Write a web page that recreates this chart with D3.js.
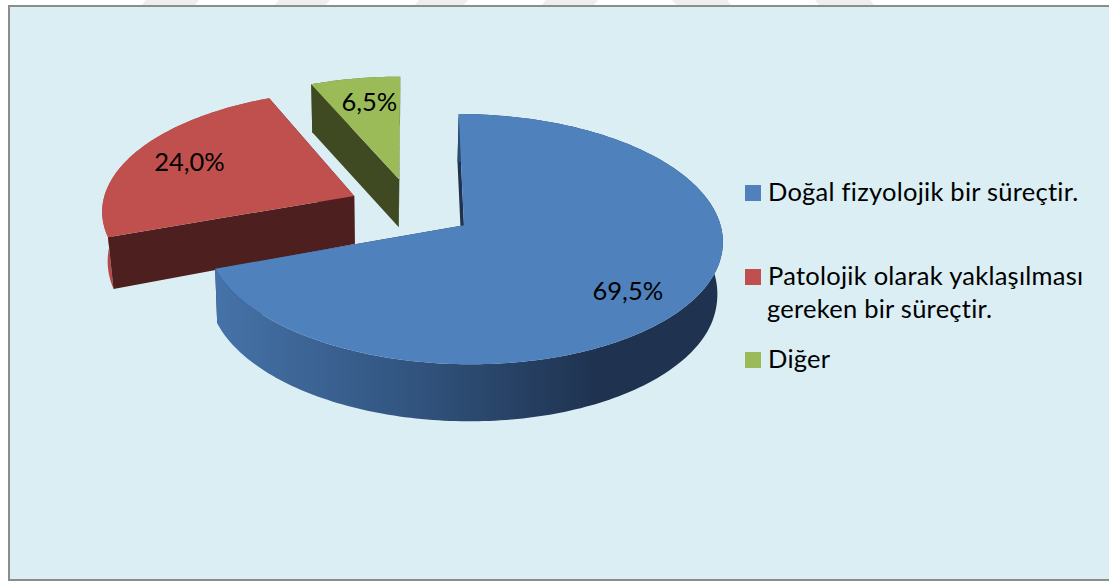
<!DOCTYPE html>
<html><head><meta charset="utf-8">
<script src="https://cdn.jsdelivr.net/npm/d3@7"></script>
<style>html,body{margin:0;padding:0;background:#fff}svg{display:block}
text{font-family:Lato,"Open Sans",sans-serif;fill:#000}</style></head>
<body><svg id="c" width="1109" height="581"></svg>
<script>
const categories = ["Doğal fizyolojik bir süreçtir.", "Patolojik olarak yaklaşılması|gereken bir süreçtir.", "Diğer"];
const seriesValues = [69.5, 24.0, 6.5];
const valueLabels = ["69,5%", "24,0%", "6,5%"];
const topColors = ["#4f81bd", "#c0504d", "#9bbb59"];
const wallColors = ["#1f3350", "#4d1f1e", "#3f4a22"];
const rimColors = ["url(#rimBlue)", "#b5494a", "#5e7036"];
const watermarkStripes = [[141,194,1],[274,325,1],[414,463,1],[541,593,1],[677,732,-1],[820,875,-1]];

const W = 1109, H = 581;
const svg = d3.select("#c");
const defs = svg.append("defs");
const g = defs.append("linearGradient").attr("id","rimBlue").attr("gradientUnits","userSpaceOnUse")
  .attr("x1",218).attr("x2",595).attr("y1",0).attr("y2",0);
g.append("stop").attr("offset",0).attr("stop-color","#4572a8");
g.append("stop").attr("offset",0.5).attr("stop-color","#325580");
g.append("stop").attr("offset",1).attr("stop-color","#1f3350");

// page background and frame
svg.append("rect").attr("width",W).attr("height",H).attr("fill","#fff");
svg.selectAll("path.wm").data(watermarkStripes).join("path").attr("class","wm")
  .attr("fill","#eeeeee")
  .attr("d", d => d3.line()([[d[0],6],[d[0]+d[2]*5,0],[d[1]+d[2]*5,0],[d[1],6]]));
svg.append("rect").attr("x",9).attr("y",6).attr("width",W+10).attr("height",574)
  .attr("fill","#daeef3").attr("stroke","#8c8c8c").attr("stroke-width",2);

// perspective projection of the exploded pie
const P = {cx:411.5, cy:207.7, rx:252.5, ry:119.7, k:0.11, explode:0.25};
const project = (U,V) => { const w = 1 + P.k*V; return [P.cx + P.rx*U/w, P.cy - P.ry*V/w]; };
const depthAt = d3.scaleLinear().domain([195,267,364]).range([48,54.5,57]).clamp(true);
const shiftAt = d3.scaleLinear().domain([108,216,355,722]).range([5.5,2,0.5,-5.5]).clamp(true);
const lower = ([x,y]) => [x + shiftAt(x), y + depthAt(y)];

const arcs = d3.pie().sort(null).value(d => d)(seriesValues);
const line = d3.line();
const labelPlacement = [{r:0.775, turn:0.09}, {r:0.75, turn:0}, {r:0.75, turn:0.024}];

const slices = arcs.map((a,i) => {
  const mid = (a.startAngle + a.endAngle)/2;
  const ox = P.explode*Math.sin(mid), oy = P.explode*Math.cos(mid);
  const pt = (ang,r) => project(ox + r*Math.sin(ang), oy + r*Math.cos(ang));
  const n = Math.ceil((a.endAngle-a.startAngle)/0.02);
  const angs = d3.range(n+1).map(j => a.startAngle + (a.endAngle-a.startAngle)*j/n);
  const outer = angs.map(t => pt(t,1));
  return {i, a, mid, pt, outer, apex: pt(0,0)};
});

// painter's order: back slices first, front slice last; back-facing walls go behind the rim
[2,1,0].forEach(i => {
  const s = slices[i];
  const G = svg.append("g");
  const wall = (p) => G.append("path")
    .attr("d", line([s.apex,p,lower(p),lower(s.apex)])+"Z").attr("fill",wallColors[i]);
  const startFront = Math.sin(s.a.startAngle) < -1e-6;
  const endFront = Math.sin(s.a.endAngle) > 1e-6;
  if (!startFront) wall(s.outer[0]);
  if (!endFront) wall(s.outer[s.outer.length-1]);
  G.append("path").attr("d", line(s.outer.concat(s.outer.map(lower).reverse()))+"Z")
    .attr("fill",rimColors[i]);
  if (startFront) wall(s.outer[0]);
  if (endFront) wall(s.outer[s.outer.length-1]);
  G.append("path").attr("d", line([s.apex].concat(s.outer))+"Z").attr("fill",topColors[i]);
});

// value labels
slices.forEach(s => {
  const lp = labelPlacement[s.i];
  const [x,y] = s.pt(s.mid + lp.turn, lp.r);
  svg.append("text").attr("x",x).attr("y",y+9).attr("text-anchor","middle")
    .attr("font-size",25.5).text(valueLabels[s.i]);
});

// legend
const legendRows = [201,285,368];
categories.forEach((c,i) => {
  const base = legendRows[i];
  svg.append("rect").attr("x",745).attr("y",base-16).attr("width",16).attr("height",16).attr("fill",topColors[i]);
  c.split("|").forEach((ln,j) => {
    svg.append("text").attr("x",j?767:768).attr("y",base+j*33).attr("font-size",25.5)
      .attr("letter-spacing",0.25).text(ln);
  });
});
</script></body></html>
